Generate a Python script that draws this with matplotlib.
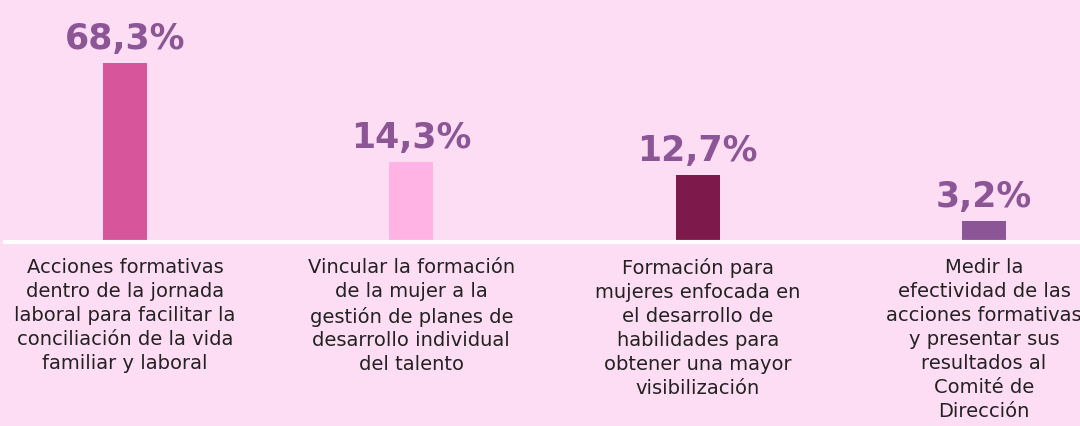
import matplotlib.pyplot as plt

# Data
labels = [
    'Acciones formativas\ndentro de la jornada\nlaboral para facilitar la\nconciliación de la vida\nfamiliar y laboral',
    'Vincular la formación\nde la mujer a la\ngestión de planes de\ndesarrollo individual\ndel talento',
    'Formación para\nmujeres enfocada en\nel desarrollo de\nhabilidades para\nobtener una mayor\nvisibilización',
    'Medir la\nefectividad de las\nacciones formativas\ny presentar sus\nresultados al\nComité de\nDirección',
]
values = [68.3, 14.3, 12.7, 3.2]
# drawn bar heights as they appear in the picture (not proportional to the labels)
bar_heights = [68.3, 30.5, 25.6, 8.0]
value_text = ['68,3%', '14,3%', '12,7%', '3,2%']
colors = ['#D6559B', '#FFB3E4', '#7E1A4B', '#8B5596']

bg = '#FDDDF3'

fig = plt.figure(figsize=(10.8, 4.27), dpi=100)
fig.patch.set_facecolor(bg)
ax = fig.add_axes([0, (427 - 243) / 427, 1, 243 / 427])
ax.set_facecolor(bg)

x = list(range(len(values)))
ax.bar(x, bar_heights, width=0.154, color=colors, zorder=2)

ax.set_xlim(-125 / 286.33, (1080 - 125) / 286.33)
ax.set_ylim(0, 243 / (179 / 68.3))

# white baseline
ax.axhline(0, xmin=5 / 1080, xmax=1, color='white', linewidth=3, clip_on=False, zorder=3)

for i in x:
    ax.annotate(value_text[i], (i, bar_heights[i]), xytext=(0, 11), textcoords='offset points',
                ha='center', va='baseline', fontsize=25, fontweight='bold',
                color='#8B5596', family='DejaVu Sans')
    ax.annotate(labels[i], (i, 0), xytext=(0, -11), textcoords='offset points',
                ha='center', va='top', fontsize=14, color='#222222', family='DejaVu Sans',
                linespacing=1.33, annotation_clip=False, multialignment='center')

ax.axis('off')

plt.savefig('out.png', dpi=100, facecolor=bg)
